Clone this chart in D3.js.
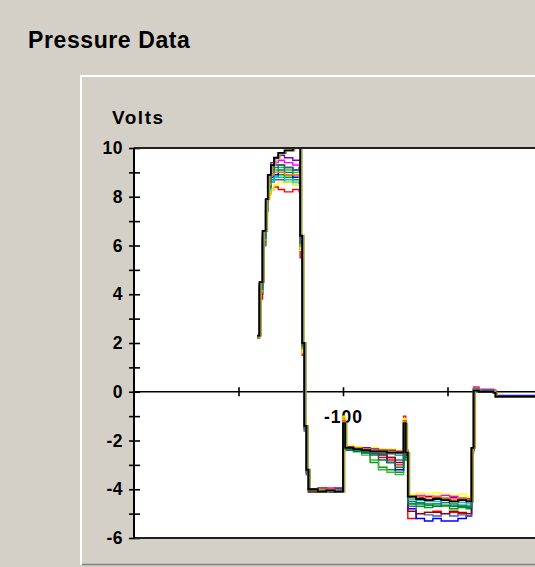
<!DOCTYPE html>
<html><head><meta charset="utf-8">
<script src="https://cdn.jsdelivr.net/npm/d3@7"></script>
<style>body{margin:0;background:#d4d0c8;}svg{display:block;}</style>
</head><body>
<svg id="chart" width="535" height="567"></svg>
<script>
// ---- data ----
const titleText = "Pressure Data";
const yAxisTitle = "Volts";
const yTickValues = [-6,-5,-4,-3,-2,-1,0,1,2,3,4,5,6,7,8,9,10];
const yTickLabels = ["-6","","-4","","-2","","0","","2","","4","","6","","8","","10"];
const xTickValues = [-150,-100,-50];
const xTickLabels = ["","-100",""];

const time = [-141,-140,-138.5,-137,-136,-134.5,-133,-131,-128,-124,-121,-120.5,-119.5,-118.5,-117.5,-116.5,-112,-108,-104,-100,-99,-95,-91,-87,-83,-79,-75,-71,-70,-69,-65,-61,-57,-53,-49,-45,-41,-38.5,-37.5,-35,-28,-27,-5];

const red       = [2.2,3.8,6.0,7.4,8.1,8.3,8.4,8.3,8.2,8.3,8.2,5.5,1.5,-1.6,-3.4,-4.1,-4.0,-4.05,-4.0,-1.1,-2.3,-2.35,-2.5,-2.55,-2.7,-2.8,-3.0,-1.0,-2.4,-5.2,-5.0,-4.95,-4.9,-5.0,-4.95,-5.0,-5.0,-2.4,0.15,0.05,0.05,-0.2,-0.2];
const green     = [2.3,4.2,6.3,7.6,8.4,8.7,8.8,8.9,8.8,8.7,8.7,6.0,1.8,-1.5,-3.3,-4.05,-4.1,-4.0,-4.05,-1.4,-2.4,-2.45,-2.5,-2.9,-3.1,-3.2,-3.3,-1.6,-2.8,-4.6,-4.7,-4.75,-4.7,-4.7,-4.8,-4.75,-4.8,-2.5,0.1,0.05,0.0,-0.2,-0.2];
const green2    = [2.2,4.0,6.2,7.5,8.6,9.0,9.1,9.2,9.1,9.0,9.1,6.1,1.9,-1.5,-3.3,-4.1,-4.0,-4.1,-4.05,-1.3,-2.35,-2.4,-2.6,-2.8,-3.2,-3.3,-3.4,-1.5,-2.6,-4.5,-4.6,-4.65,-4.6,-4.7,-4.65,-4.7,-4.7,-2.4,0.1,0.05,0.0,-0.2,-0.2];
const blue      = [2.3,4.4,6.5,7.8,8.5,8.8,8.9,9.0,8.9,8.8,8.8,6.2,1.9,-1.4,-3.3,-4.0,-4.05,-4.1,-4.0,-1.2,-2.3,-2.4,-2.45,-2.5,-2.6,-2.9,-3.2,-1.2,-2.6,-4.8,-5.2,-5.3,-5.2,-5.3,-5.3,-5.2,-5.1,-2.3,0.15,0.05,0.05,-0.15,-0.15];
const steel     = [2.2,4.0,6.0,7.4,8.2,8.6,8.7,8.7,8.6,8.5,8.6,5.9,1.7,-1.6,-3.4,-4.1,-4.05,-4.0,-4.1,-1.3,-2.35,-2.4,-2.5,-2.55,-2.6,-2.7,-2.8,-1.2,-2.5,-4.7,-5.0,-5.05,-5.1,-5.0,-5.1,-5.05,-5.1,-2.3,0.1,0.05,0.0,-0.2,-0.2];
const yellow    = [2.3,4.3,6.1,7.2,8.0,8.3,8.5,8.6,8.6,8.5,8.5,5.8,1.6,-1.5,-3.3,-4.0,-3.95,-4.0,-3.95,-1.0,-2.2,-2.25,-2.3,-2.3,-2.35,-2.35,-2.4,-1.1,-2.4,-4.2,-4.15,-4.2,-4.15,-4.2,-4.25,-4.2,-4.3,-2.3,0.2,0.05,0.05,-0.2,-0.2];
const magenta   = [2.2,4.1,6.3,7.7,8.7,9.2,9.4,9.5,9.4,9.3,9.3,6.3,2.0,-1.4,-3.2,-4.0,-4.0,-3.95,-4.0,-1.2,-2.25,-2.3,-2.35,-2.4,-2.4,-2.45,-2.45,-1.2,-2.5,-4.3,-4.25,-4.3,-4.3,-4.25,-4.3,-4.35,-4.4,-2.3,0.2,0.1,0.05,-0.2,-0.2];
const cyan      = [2.2,4.2,6.2,7.5,8.3,8.6,8.8,8.8,8.7,8.6,8.6,6.0,1.8,-1.5,-3.3,-4.05,-4.0,-4.05,-4.0,-1.3,-2.3,-2.35,-2.4,-2.45,-2.45,-2.5,-2.5,-1.3,-2.5,-4.4,-4.45,-4.5,-4.5,-4.55,-4.5,-4.55,-4.6,-2.4,0.1,0.05,0.0,-0.2,-0.2];
const darkred   = [2.3,4.3,6.4,7.8,8.8,9.1,9.3,9.3,9.2,9.1,9.2,6.2,1.9,-1.5,-3.3,-4.1,-4.05,-4.1,-4.05,-1.3,-2.4,-2.4,-2.45,-2.5,-2.55,-2.7,-2.9,-1.3,-2.6,-4.9,-5.0,-4.95,-4.95,-5.0,-4.9,-4.95,-5.0,-2.4,0.1,0.05,0.0,-0.2,-0.2];
const darkgreen = [2.2,4.0,6.1,7.4,8.4,8.9,9.0,9.1,9.0,8.9,8.9,6.0,1.8,-1.5,-3.3,-4.0,-4.1,-4.05,-4.1,-1.3,-2.4,-2.45,-2.5,-2.6,-2.8,-2.9,-3.1,-1.4,-2.7,-4.6,-4.6,-4.65,-4.7,-4.65,-4.7,-4.7,-4.75,-2.4,0.1,0.05,0.0,-0.2,-0.2];
const purple    = [2.3,4.4,6.5,7.9,8.9,9.4,9.6,9.7,9.6,9.5,9.5,6.4,2.0,-1.4,-3.2,-4.0,-3.95,-4.0,-3.95,-1.2,-2.25,-2.3,-2.3,-2.35,-2.4,-2.4,-2.45,-1.2,-2.4,-4.3,-4.35,-4.3,-4.35,-4.4,-4.35,-4.4,-4.4,-2.3,0.15,0.05,0.05,-0.2,-0.2];
const orange    = [2.2,4.1,6.2,7.6,8.5,8.9,9.0,9.0,8.9,8.9,8.8,6.0,1.8,-1.5,-3.3,-4.05,-4.0,-4.0,-4.05,-1.2,-2.3,-2.3,-2.35,-2.4,-2.4,-2.45,-2.5,-1.2,-2.5,-4.35,-4.3,-4.35,-4.3,-4.35,-4.4,-4.35,-4.45,-2.3,0.15,0.05,0.05,-0.2,-0.2];
const teal      = [2.3,4.2,6.3,7.7,8.6,9.0,9.2,9.3,9.2,9.1,9.1,6.1,1.9,-1.5,-3.3,-4.05,-4.05,-4.1,-4.05,-1.3,-2.35,-2.4,-2.45,-2.5,-2.5,-2.55,-2.6,-1.3,-2.5,-4.5,-4.55,-4.6,-4.6,-4.55,-4.6,-4.65,-4.7,-2.4,0.1,0.05,0.0,-0.2,-0.2];
const olive     = [2.3,4.5,6.6,7.9,8.9,9.3,9.6,9.8,9.9,10.0,10.0,6.4,2.0,-1.4,-3.2,-4.0,-4.1,-4.05,-4.1,-1.3,-2.3,-2.35,-2.4,-2.45,-2.45,-2.5,-2.5,-1.3,-2.5,-4.3,-4.4,-4.45,-4.4,-4.45,-4.5,-4.45,-4.5,-2.3,0.05,0.0,-0.05,-0.2,-0.2];
const black     = [2.3,4.5,6.6,7.9,8.9,9.3,9.6,9.8,9.9,10.0,10.0,6.4,2.0,-1.4,-3.2,-4.0,-4.1,-4.05,-4.1,-1.3,-2.3,-2.35,-2.4,-2.45,-2.45,-2.5,-2.5,-1.3,-2.5,-4.3,-4.4,-4.45,-4.4,-4.45,-4.5,-4.45,-4.5,-2.3,0.05,0.0,-0.05,-0.2,-0.2];

const colouredSeries = [
  {values: red, color: "#ff0000"},
  {values: green, color: "#00a000"},
  {values: green2, color: "#40b040"},
  {values: blue, color: "#0000ff"},
  {values: steel, color: "#4060c0"},
  {values: yellow, color: "#ffff00"},
  {values: magenta, color: "#ff00ff"},
  {values: cyan, color: "#00c8c8"},
  {values: darkred, color: "#a00000"},
  {values: darkgreen, color: "#008040"},
  {values: purple, color: "#8000c0"},
  {values: orange, color: "#ff8000"},
  {values: teal, color: "#008080"}
];

// ---- drawing ----
const svg = d3.select("#chart");
const W = 535, H = 567;
const plot = {left: 134, top: 148, right: 552, bottom: 538};

svg.append("rect").attr("width", W).attr("height", H).attr("fill", "#d4d0c8");

// panel frame
svg.append("line").attr("x1", 81).attr("x2", 81).attr("y1", 75).attr("y2", 565)
  .attr("stroke", "#ffffff").attr("stroke-width", 2);
svg.append("line").attr("x1", 80).attr("x2", W).attr("y1", 76).attr("y2", 76)
  .attr("stroke", "#ffffff").attr("stroke-width", 2);
svg.append("line").attr("x1", 82).attr("x2", W).attr("y1", 564.5).attr("y2", 564.5)
  .attr("stroke", "#808080").attr("stroke-width", 1.5);

// title
svg.append("text").attr("x", 28).attr("y", 48)
  .attr("font-family", "'Liberation Sans', Arial, sans-serif")
  .attr("font-weight", "bold").attr("font-size", 23).attr("letter-spacing", 0.6)
  .attr("fill", "#000").text(titleText);

const x = d3.scaleLinear().domain([-200, 0]).range([plot.left, plot.right]);
const y = d3.scaleLinear().domain([-6, 10]).range([plot.bottom, plot.top]);

// plot background
svg.append("rect").attr("x", plot.left).attr("y", plot.top)
  .attr("width", plot.right - plot.left).attr("height", plot.bottom - plot.top)
  .attr("fill", "#ffffff");

// y axis title
svg.append("text").attr("x", 112).attr("y", 124)
  .attr("font-family", "'Liberation Sans', Arial, sans-serif")
  .attr("font-weight", "bold").attr("font-size", 19).attr("letter-spacing", 1.5)
  .attr("fill", "#000").text(yAxisTitle);

const fontTicks = "'Liberation Sans', Arial, sans-serif";

// y axis (left ticks + labels)
const yAxisL = d3.axisLeft(y).tickValues(yTickValues).tickSizeInner(5).tickSizeOuter(0).tickPadding(6)
  .tickFormat((d, i) => yTickLabels[i]);
const gyl = svg.append("g").attr("transform", `translate(${plot.left},0)`).call(yAxisL);
gyl.select(".domain").remove();
gyl.selectAll(".tick line").attr("stroke", "#000").attr("stroke-width", 1.6);
gyl.selectAll(".tick text").attr("font-family", fontTicks).attr("font-weight", "bold")
  .attr("font-size", 17.5).attr("fill", "#000").attr("letter-spacing", 0.5);
// y axis right half of crossing ticks
const yAxisR = d3.axisRight(y).tickValues(yTickValues).tickSizeInner(6).tickSizeOuter(0).tickFormat("");
const gyr = svg.append("g").attr("transform", `translate(${plot.left},0)`).call(yAxisR);
gyr.select(".domain").remove();
gyr.selectAll(".tick line").attr("stroke", "#000").attr("stroke-width", 1.6);

// x axis at y = 0
const x0 = y(0);
const xAxisB = d3.axisBottom(x).tickValues(xTickValues).tickSizeInner(4.5).tickSizeOuter(0).tickPadding(14)
  .tickFormat((d, i) => xTickLabels[i]);
const gxb = svg.append("g").attr("transform", `translate(0,${x0})`).call(xAxisB);
gxb.select(".domain").remove();
gxb.selectAll(".tick line").attr("stroke", "#000").attr("stroke-width", 1.6);
gxb.selectAll(".tick text").attr("font-family", fontTicks).attr("font-weight", "bold")
  .attr("font-size", 17.5).attr("fill", "#000").attr("letter-spacing", 1);
const xAxisT = d3.axisTop(x).tickValues(xTickValues).tickSizeInner(4.5).tickSizeOuter(0).tickFormat("");
const gxt = svg.append("g").attr("transform", `translate(0,${x0})`).call(xAxisT);
gxt.select(".domain").remove();
gxt.selectAll(".tick line").attr("stroke", "#000").attr("stroke-width", 1.6);
svg.append("line").attr("x1", plot.left).attr("x2", plot.right).attr("y1", x0).attr("y2", x0)
  .attr("stroke", "#000").attr("stroke-width", 1.5);

// frame lines of the plot
svg.append("line").attr("x1", plot.left).attr("x2", plot.right).attr("y1", plot.top).attr("y2", plot.top)
  .attr("stroke", "#202020").attr("stroke-width", 2);
svg.append("line").attr("x1", plot.left).attr("x2", plot.right).attr("y1", plot.bottom).attr("y2", plot.bottom)
  .attr("stroke", "#202020").attr("stroke-width", 2);
svg.append("line").attr("x1", plot.left).attr("x2", plot.left).attr("y1", plot.top).attr("y2", plot.bottom)
  .attr("stroke", "#000").attr("stroke-width", 2);

// clip
svg.append("clipPath").attr("id", "clip").append("rect")
  .attr("x", plot.left + 1).attr("y", plot.top + 1)
  .attr("width", plot.right - plot.left).attr("height", plot.bottom - plot.top - 2);

const line = d3.line().curve(d3.curveStepAfter)
  .x((d, i) => x(time[i])).y(d => y(d));

const lines = svg.append("g").attr("clip-path", "url(#clip)");
colouredSeries.forEach(s => {
  lines.append("path").attr("d", line(s.values)).attr("fill", "none")
    .attr("stroke", s.color).attr("stroke-width", 1.4);
});
lines.append("path").attr("d", line(olive)).attr("fill", "none")
  .attr("stroke", "#a0a040").attr("stroke-width", 2).attr("transform", "translate(1.5,0)");
lines.append("path").attr("d", line(black)).attr("fill", "none")
  .attr("stroke", "#000").attr("stroke-width", 1.8);
</script>
</body></html>
